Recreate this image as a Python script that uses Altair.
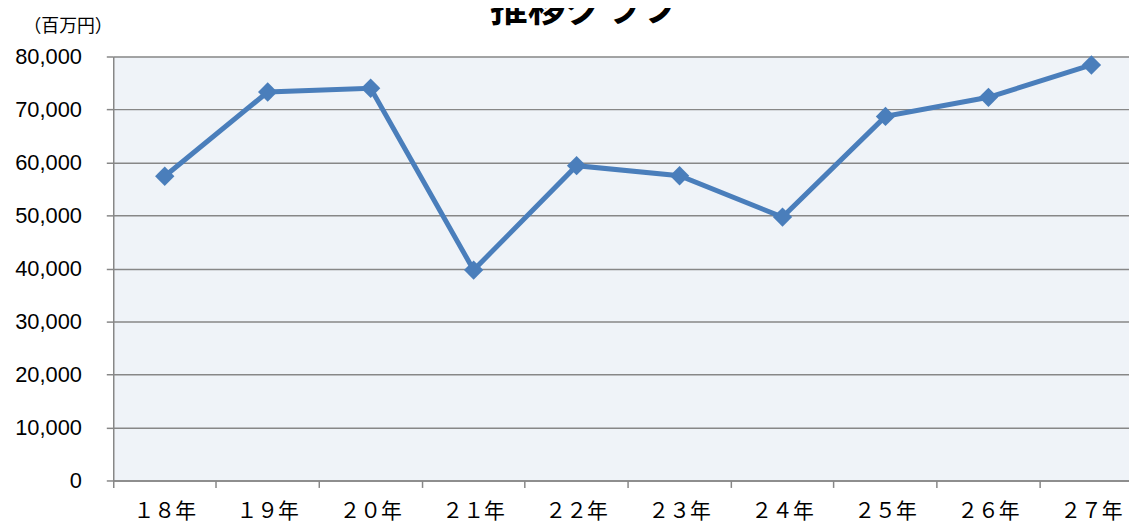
import altair as alt
import pandas as pd

years = ["１８年", "１９年", "２０年", "２１年", "２２年", "２３年", "２４年", "２５年", "２６年", "２７年"]
values = [57400, 73300, 74000, 39700, 59400, 57500, 49700, 68700, 72300, 78400]
y_ticks = [0, 10000, 20000, 30000, 40000, 50000, 60000, 70000, 80000]

df = pd.DataFrame({"year": years, "value": values})

GRAY = "#878787"
BLUE = "#4A7EBB"
BAND = 103.7

base = alt.Chart(df).encode(
    x=alt.X(
        "year:N",
        sort=years,
        scale=alt.Scale(type="band", paddingInner=0, paddingOuter=0),
        axis=alt.Axis(
            title=None,
            labelAngle=0,
            bandPosition=0,
            tickSize=7,
            tickColor=GRAY,
            tickWidth=1.5,
            domainColor=GRAY,
            domainWidth=1.5,
            grid=False,
            labelFont="Noto Sans CJK JP",
            labelFontSize=21,
            labelColor="black",
            labelPadding=13,
        ),
    ),
    y=alt.Y(
        "value:Q",
        scale=alt.Scale(domain=[0, 80000], nice=False),
        axis=alt.Axis(
            values=y_ticks,
            format=",.0f",
            title="（百万円）",
            titleAngle=0,
            titleX=-46,
            titleY=-30,
            titleAlign="center",
            titleBaseline="middle",
            titleFont="Noto Sans CJK JP",
            titleFontSize=18,
            titleFontWeight="normal",
            titleColor="black",
            labelFont="Liberation Sans",
            labelFontSize=22,
            labelColor="black",
            labelPadding=25,
            tickSize=7,
            tickColor=GRAY,
            tickWidth=1.5,
            domainColor=GRAY,
            domainWidth=1.5,
            gridColor=GRAY,
            gridWidth=1.5,
        ),
    ),
)

line = base.mark_line(color=BLUE, strokeWidth=5)
points = base.mark_point(shape="diamond", filled=True, size=380, color=BLUE, opacity=1)

chart = (
    alt.layer(line, points)
    .properties(
        width=10 * BAND,
        height=427,
        title=alt.TitleParams(
            "推移グラフ",
            fontSize=38,
            fontWeight="bold",
            font="Noto Sans CJK JP",
            anchor="middle",
            color="black",
            dx=-44,
            dy=15,
        ),
        autosize=alt.AutoSizeParams(type="none"),
        padding={"left": 106, "top": 47, "right": -14, "bottom": 44},
    )
    .configure_view(fill="#EFF3F8", stroke=None)
)

chart.save("out.html", embed_options={"renderer": "svg", "actions": False})
